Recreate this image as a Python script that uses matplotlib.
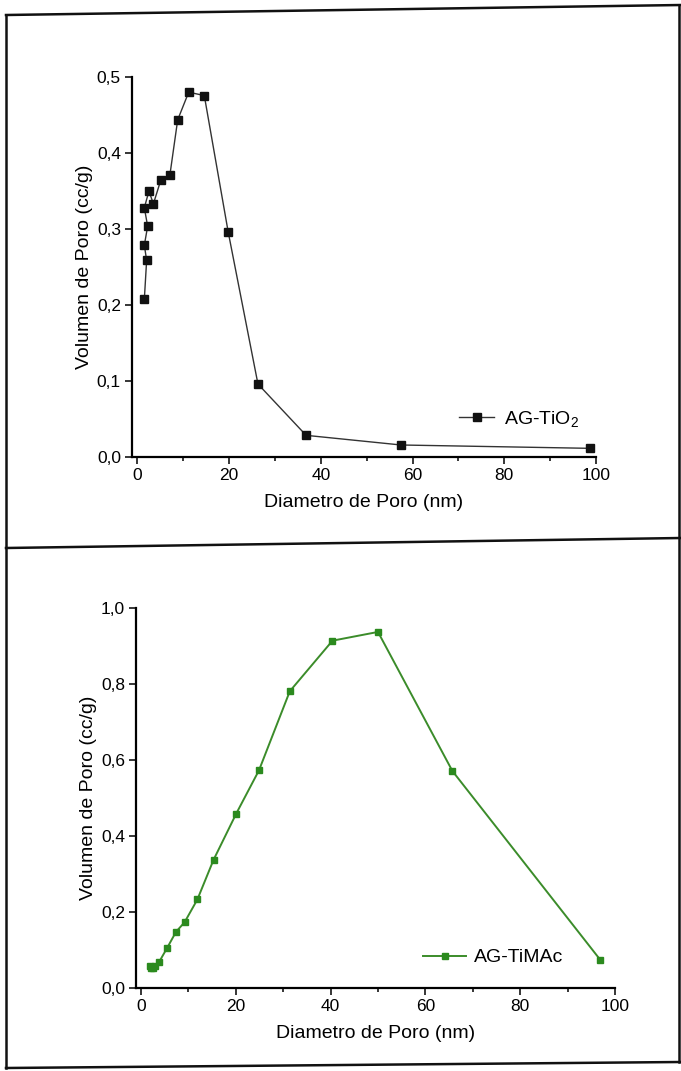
import matplotlib
matplotlib.use("Agg")
import matplotlib.pyplot as plt
from matplotlib.lines import Line2D

# pore size distribution, AG-TiO2 (top) and AG-TiMAc (bottom)
tio2_diam = [1.53, 2.03, 1.53, 2.25, 1.53, 2.54, 3.5, 5.1, 7.1, 8.8, 11.2, 14.6,
             19.8, 26.3, 36.8, 57.5, 98.7]
tio2_vol = [0.2076, 0.2587, 0.2787, 0.3036, 0.328, 0.350, 0.333, 0.364, 0.371,
            0.4436, 0.480, 0.4756, 0.2965, 0.096, 0.0285, 0.0158, 0.0114]

timac_diam = [1.8, 2.2, 2.6, 3.0, 3.8, 5.5, 7.4, 9.2, 11.9, 15.3, 20.1, 24.9,
              31.4, 40.4, 50.0, 65.7, 96.9]
timac_vol = [0.058, 0.053, 0.052, 0.057, 0.068, 0.105, 0.148, 0.173, 0.233,
             0.337, 0.459, 0.573, 0.781, 0.914, 0.937, 0.571, 0.074]

x_ticks = [0, 20, 40, 60, 80, 100]
top_yticks = [0.0, 0.1, 0.2, 0.3, 0.4, 0.5]
top_ylabels = ["0,0", "0,1", "0,2", "0,3", "0,4", "0,5"]
bot_yticks = [0.0, 0.2, 0.4, 0.6, 0.8, 1.0]
bot_ylabels = ["0,0", "0,2", "0,4", "0,6", "0,8", "1,0"]

plt.rcParams['font.family'] = ['Liberation Sans', 'DejaVu Sans']
plt.rcParams['mathtext.fontset'] = 'custom'
plt.rcParams['mathtext.rm'] = 'Liberation Sans'
plt.rcParams['mathtext.it'] = 'Liberation Sans'

W, H = 681, 1071
fig = plt.figure(figsize=(W / 100, H / 100), dpi=100)


def px_axes(left, top, right, bottom):
    return fig.add_axes([left / W, 1 - bottom / H, (right - left) / W, (bottom - top) / H])


def style(ax, yticks, ylabels):
    for s in ['top', 'right']:
        ax.spines[s].set_visible(False)
    for s in ['left', 'bottom']:
        ax.spines[s].set_linewidth(1.6)
    ax.set_xticks(x_ticks)
    ax.set_xticks([10, 30, 50, 70, 90], minor=True)
    ax.set_yticks(yticks)
    ax.set_yticklabels(ylabels)
    ax.tick_params(which='major', direction='out', length=5, width=1.1,
                   labelsize=12.5, pad=3)
    ax.tick_params(which='minor', direction='out', length=2.8, width=1.1)
    ax.set_xlabel("Diametro de Poro (nm)", fontsize=14, labelpad=8)
    ax.set_ylabel("Volumen de Poro (cc/g)", fontsize=14, labelpad=3)


ax1 = px_axes(132, 77, 596, 457)
ax1.plot(tio2_diam, tio2_vol, color='#333333', lw=1.0, marker='s', ms=6,
         mfc='#111111', mec='#111111', label=r'AG-TiO$_\mathrm{2}$')
ax1.set_xlim(-1.16, 100)
ax1.set_ylim(0, 0.5)
style(ax1, top_yticks, top_ylabels)
ax1.legend(loc='center left', bbox_to_anchor=(0.705, 0.10), frameon=False,
           fontsize=14, handlelength=1.8, handletextpad=0.5, borderpad=0,
           borderaxespad=0, numpoints=1)

ax2 = px_axes(136, 608, 615, 988)
ax2.plot(timac_diam, timac_vol, color='#3b8c2a', lw=1.4, marker='s', ms=5,
         mfc='#2b8a1e', mec='#2b8a1e', label='AG-TiMAc')
ax2.set_xlim(-1.05, 100)
ax2.set_ylim(0, 1.0)
style(ax2, bot_yticks, bot_ylabels)
ax2.legend(loc='center left', bbox_to_anchor=(0.60, 0.08), frameon=False,
           fontsize=14, handlelength=2.2, handletextpad=0.4, borderpad=0,
           borderaxespad=0, numpoints=1)

# scanned page frame around the two panels
frame = [((6, 15), (681, 5)), ((6, 548), (681, 538)), ((6, 1068), (681, 1062)),
         ((6, 15), (6, 1068)), ((679, 5), (679, 1062))]
for (x0, y0), (x1, y1) in frame:
    fig.add_artist(Line2D([x0 / W, x1 / W], [1 - y0 / H, 1 - y1 / H],
                          color='#111111', lw=1.8, transform=fig.transFigure))

fig.savefig("out.png", dpi=100)
